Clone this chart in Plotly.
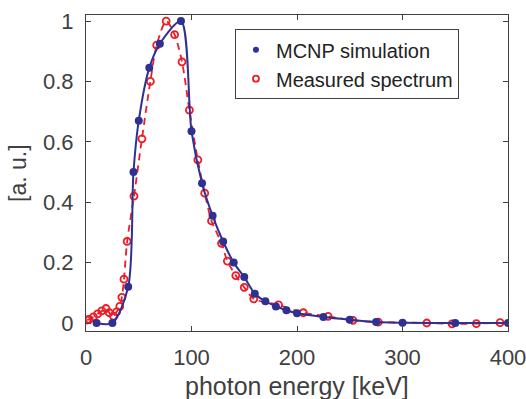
import plotly.graph_objects as go

# MCNP simulation (blue, filled)
sim_energy = [10, 25, 40, 45, 50, 60, 70, 90, 100, 110, 120, 130, 140, 150, 160,
              170, 180, 190, 200, 225, 250, 275, 300, 350, 400]
sim_value = [0.0, 0.0, 0.12, 0.50, 0.67, 0.845, 0.925, 1.0, 0.635, 0.463, 0.355,
             0.27, 0.20, 0.152, 0.097, 0.072, 0.055, 0.042, 0.032, 0.02, 0.011,
             0.003, 0.001, 0.0, 0.0]

# Measured spectrum (red, open)
meas_energy = [1, 3, 7, 11, 15, 19, 22, 26, 29, 32, 34, 36, 39, 45.5, 53, 61, 67,
               76, 84, 91, 98, 106, 112.5, 119, 128.5, 134, 142, 150, 159, 182.5,
               206, 229.5, 253, 277, 323, 347, 370, 392.5]
meas_value = [0.01, 0.012, 0.02, 0.03, 0.04, 0.048, 0.034, 0.023, 0.037, 0.055,
              0.085, 0.145, 0.27, 0.42, 0.61, 0.80, 0.92, 1.0, 0.955, 0.865, 0.705,
              0.54, 0.43, 0.338, 0.264, 0.205, 0.157, 0.118, 0.08, 0.06, 0.034,
              0.022, 0.009, 0.003, 0.0, -0.003, -0.002, 0.001]

x_ticks = [0, 100, 200, 300, 400]
y_ticks = [0, 0.2, 0.4, 0.6, 0.8, 1]
y_tick_labels = ["0", "0.2", "0.4", "0.6", "0.8", "1"]

BLUE = "#2e3192"
RED = "#ee1c25"
GRAY = "#404040"
FONT = "Liberation Sans, Arial, sans-serif"

fig = go.Figure()
fig.add_trace(go.Scatter(
    x=meas_energy, y=meas_value, mode="lines+markers", showlegend=False,
    line=dict(color=RED, width=1.8, dash="7px,5px", shape="spline", smoothing=0.8),
    marker=dict(symbol="circle-open", size=7, color=RED, line=dict(width=1.8)),
))
fig.add_trace(go.Scatter(
    x=sim_energy, y=sim_value, mode="lines+markers", showlegend=False,
    line=dict(color=BLUE, width=2, shape="spline", smoothing=0.8),
    marker=dict(symbol="circle", size=8, color=BLUE),
))
# legend entries (marker only)
fig.add_trace(go.Scatter(
    x=[None], y=[None], mode="markers", name="MCNP simulation",
    marker=dict(symbol="circle", size=6, color=BLUE),
))
fig.add_trace(go.Scatter(
    x=[None], y=[None], mode="markers", name="Measured spectrum",
    marker=dict(symbol="circle-open", size=6, color=RED, line=dict(width=1.8)),
))

axis_common = dict(
    showgrid=False, zeroline=False, showline=True, linecolor=GRAY, linewidth=1,
    mirror="ticks", ticks="inside", ticklen=5, tickcolor=GRAY, automargin=False,
    ticklabeloverflow="allow",
    tickfont=dict(family=FONT, size=22, color=GRAY),
)

fig.update_layout(
    width=526, height=399,
    margin=dict(l=86, r=18, t=15, b=68),
    paper_bgcolor="white", plot_bgcolor="white",
    font=dict(family=FONT, color=GRAY),
    xaxis=dict(range=[0, 400], tickvals=x_ticks, ticklabelstandoff=7, **axis_common),
    yaxis=dict(range=[-0.0265, 1.02], tickvals=y_ticks, ticktext=y_tick_labels,
               ticklabelstandoff=7, **axis_common),
    legend=dict(x=0.353, y=0.955, xanchor="left", yanchor="top",
                bordercolor=GRAY, borderwidth=1, bgcolor="white",
                font=dict(family=FONT, size=20, color="#222222"),
                tracegroupgap=0, itemwidth=30),
    annotations=[
        dict(text="photon energy [keV]", xref="paper", yref="paper", x=0.5, y=0,
             yshift=-55, yanchor="middle", showarrow=False,
             font=dict(family=FONT, size=25, color=GRAY)),
        dict(text="[a. u.]", xref="paper", yref="paper", x=0, y=0.5,
             xshift=-68, xanchor="center", textangle=-90, showarrow=False,
             font=dict(family=FONT, size=23, color=GRAY)),
    ],
)

fig.write_html("out.html", config={"displayModeBar": False},
               post_script="document.body.style.margin='0px';document.body.style.overflow='hidden';")
